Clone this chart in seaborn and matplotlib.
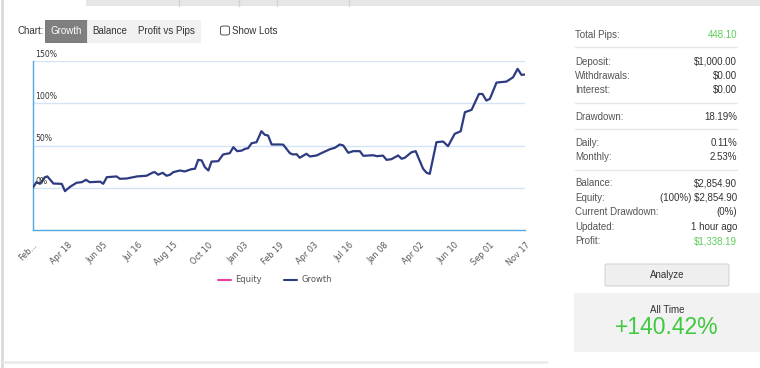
import matplotlib
matplotlib.use("Agg")
import matplotlib.pyplot as plt
import seaborn as sns
import pandas as pd
from matplotlib.patches import Rectangle, FancyBboxPatch
from matplotlib.lines import Line2D

# ---------------- data ----------------
# position along the date axis (10 units per labelled tick interval)
date_pos = [0, 1.0, 2.0, 3.4, 4.1, 5.8, 7.7, 8.2, 9.1, 10.5, 12.4, 13.9, 15.1, 16.1,
            19.1, 20.0, 21.0, 23.8, 24.7, 26.6, 29.6, 32.3, 34.2, 34.7, 35.6, 36.9,
            38.0, 39.0, 39.9, 41.8, 43.2, 45.1, 46.1, 47.0, 48.0, 48.9, 49.9, 50.8,
            52.7, 54.1, 56.0, 57.0, 58.1, 59.4, 60.3, 61.2, 62.2, 63.6, 65.0, 66.0,
            66.9, 67.9, 70.2, 71.2, 73.1, 74.0, 75.0, 75.9, 77.8, 78.8, 80.7, 82.6,
            84.5, 85.9, 87.3, 88.3, 89.7, 91.1, 93.0, 94.0, 96.8, 97.8, 99.6, 100.6,
            102.0, 103.9, 104.9, 105.8, 107.7, 108.9, 109.6, 111.0, 112.0, 112.9,
            114.8, 116.7, 118.1, 120.0, 121.7, 122.9, 124.8, 126.9, 127.9, 129.0,
            130.0, 131.9, 134.7, 136.6, 137.9, 139.0, 140.0]
growth = [0.5, 6.6, 4.7, 12.5, 13.4, 5.0, 4.7, 4.5, -4.0, 1.0, 5.9, 6.6, 9.4, 6.6,
          7.2, 4.7, 12.5, 13.4, 10.6, 10.9, 13.4, 14.2, 18.2, 18.4, 15.4, 17.7,
          14.2, 15.4, 18.4, 20.4, 19.3, 22.0, 22.5, 33.0, 32.3, 24.4, 20.4, 31.0,
          31.4, 39.4, 40.9, 48.0, 43.3, 44.0, 46.0, 46.8, 52.7, 53.9, 66.9, 62.6,
          61.8, 51.2, 51.2, 51.0, 40.9, 39.4, 39.7, 35.5, 40.2, 37.0, 38.2, 42.0,
          45.6, 47.3, 51.2, 50.0, 41.4, 43.3, 43.3, 37.8, 38.5, 37.4, 38.0, 33.0,
          33.8, 38.2, 34.3, 35.5, 42.0, 43.3, 36.2, 22.5, 17.7, 16.5,
          53.9, 54.7, 49.2, 63.8, 66.9, 89.4, 92.2, 111.0, 111.0, 103.2,
          105.2, 124.5, 125.6, 130.7, 140.7, 133.6, 134.0]

tick_pos = list(range(0, 141, 10))
tick_labels = ["Feb...", "Apr 18", "Jun 05", "Jul 16", "Aug 15", "Oct 10", "Jan 03",
               "Feb 19", "Apr 03", "Jul 16", "Jan 08", "Apr 02", "Jun 10", "Sep 01", "Nov 17"]
y_ticks = [-50, 0, 50, 100, 150]
y_tick_labels = ["", "0%", "50%", "100%", "150%"]

legend_labels = ["Equity", "Growth"]
chart_buttons = ["Growth", "Balance", "Profit vs Pips"]

stat_labels = ["Total Pips:", "Deposit:", "Withdrawals:", "Interest:", "Drawdown:",
               "Daily:", "Monthly:", "Balance:", "Equity:", "Current Drawdown:",
               "Updated:", "Profit:"]
stat_values = ["448.10", "$1,000.00", "$0.00", "$0.00", "18.19%", "0.11%", "2.53%",
               "$2,854.90", "(100%) $2,854.90", "(0%)", "1 hour ago", "$1,338.19"]
stat_green = [True, False, False, False, False, False, False, False, False, False,
              False, True]
all_time_label = "All Time"
all_time_value = "+140.42%"

# ---------------- style ----------------
sns.set_style("white")
plt.rcParams["font.family"] = ["Liberation Sans", "DejaVu Sans"]

W, H = 760, 368
fig = plt.figure(figsize=(W / 100, H / 100), dpi=100)
fig.patch.set_facecolor("white")


def P(x, y):
    return (x / W, 1 - y / H)


def rect(x0, y0, x1, y1, **kw):
    fig.patches.append(Rectangle((x0 / W, 1 - y1 / H), (x1 - x0) / W, (y1 - y0) / H,
                                 transform=fig.transFigure, **kw))


def hline(x0, x1, y, **kw):
    fig.lines.append(Line2D([x0 / W, x1 / W], [1 - y / H, 1 - y / H],
                            transform=fig.transFigure, **kw))


def vline(x, y0, y1, **kw):
    fig.lines.append(Line2D([x / W, x / W], [1 - y0 / H, 1 - y1 / H],
                            transform=fig.transFigure, **kw))


NAVY = "#2d3b80"
PINK = "#e8409a"
BLUE = "#53a8e0"
GRID = "#d3e4f7"
TXT = "#333333"
LAB = "#555555"
GREEN = "#5ccc5c"

# ---------------- page chrome ----------------
rect(86, 0, 760, 6, facecolor="#e6e6e6", edgecolor="none")
for sx in [179, 239, 277, 349]:
    vline(sx, 0, 6, color="#d2d2d2", lw=1)
vline(1.5, 0, 368, color="#dadada", lw=2)
hline(3, 547, 362, color="#ececec", lw=2)

# chart header
fig.text(*P(18, 30.5), "Chart:", fontsize=7, color=TXT, va="center", ha="left")
btn_x = [45, 87, 133, 200]
for i, name in enumerate(chart_buttons):
    active = i == 0
    rect(btn_x[i], 20, btn_x[i + 1], 42,
         facecolor="#7f7f7f" if active else "#f1f1f1",
         edgecolor="#6f6f6f" if active else "#f1f1f1", lw=0.6)
    fig.text(*P((btn_x[i] + btn_x[i + 1]) / 2, 31), name, fontsize=7,
             color="white" if active else TXT, ha="center", va="center")
fig.patches.append(FancyBboxPatch((220.5 / W, 1 - 35 / H), 9 / W, 9 / H,
                                  boxstyle="round,pad=0,rounding_size=0.004",
                                  transform=fig.transFigure, facecolor="white",
                                  edgecolor="#555555", lw=0.7))
fig.text(*P(232, 30.5), "Show Lots", fontsize=7, color=TXT, va="center", ha="left")

# ---------------- chart ----------------
ax = fig.add_axes([33 / W, 138 / H, 492 / W, 169 / H])
df = pd.DataFrame({"pos": date_pos, "growth": growth})
sns.lineplot(data=df, x="pos", y="growth", ax=ax, color=NAVY, lw=1.6, zorder=3)
ax.set_xlim(tick_pos[0], tick_pos[-1])
ax.set_ylim(y_ticks[0], y_ticks[-1])
ax.set_xlabel("")
ax.set_ylabel("")
ax.set_facecolor("white")
for s in ["top", "right"]:
    ax.spines[s].set_visible(False)
for s in ["left", "bottom"]:
    ax.spines[s].set_color(BLUE)
    ax.spines[s].set_linewidth(1.0)
ax.set_yticks(y_ticks)
ax.tick_params(axis="y", length=7, color=BLUE, width=1, labelleft=False)
for v in y_ticks[1:]:
    ax.axhline(v, color=GRID, lw=1, zorder=1)
for v, lab in zip(y_ticks, y_tick_labels):
    if lab:
        ax.annotate(lab, xy=(0, v), xycoords=("axes fraction", "data"),
                    xytext=(1.5, 1.5), textcoords="offset points",
                    fontsize=5.6, color=TXT, ha="left", va="bottom",
                    family="DejaVu Sans")
ax.set_xticks(tick_pos)
ax.set_xticklabels(tick_labels, rotation=45, ha="right", rotation_mode="anchor",
                   fontsize=5.9, color=LAB, family="DejaVu Sans")
ax.tick_params(axis="x", length=5, color=BLUE, width=1, pad=2.5)

handles = [Line2D([], [], color=PINK, lw=1.5), Line2D([], [], color=NAVY, lw=1.5)]
fig.legend(handles, legend_labels, loc="center", bbox_to_anchor=P(275, 280),
           ncol=2, frameon=False, prop={"family": "DejaVu Sans", "size": 6},
           handlelength=1.6, handletextpad=0.5, columnspacing=2.6, labelcolor=LAB)

# ---------------- stats panel ----------------
row_y = [35, 61.7, 76, 90, 116.7, 142.7, 156.7, 183.3, 197.6, 212, 226.6, 241]
for lab, val, g, yy in zip(stat_labels, stat_values, stat_green, row_y):
    fig.text(*P(575, yy), lab, fontsize=7, color=LAB, ha="left", va="center")
    fig.text(*P(737, yy), val, fontsize=7, color=GREEN if g else TXT,
             ha="right", va="center")
for sy in [47.3, 103.3, 129.3, 170]:
    hline(575, 737, sy, color="#e6e6e6", lw=1)

fig.patches.append(FancyBboxPatch((605 / W, 1 - 286 / H), 124 / W, 22 / H,
                                  boxstyle="round,pad=0,rounding_size=0.003",
                                  transform=fig.transFigure, facecolor="#efefef",
                                  edgecolor="#d0d0d0", lw=0.7))
fig.text(*P(667, 275), "Analyze", fontsize=7, color=TXT, ha="center", va="center")

rect(574, 293, 760, 352, facecolor="#f2f2f2", edgecolor="none")
fig.text(*P(667, 310), all_time_label, fontsize=7, color=TXT, ha="center", va="center")
fig.text(*P(667, 327), all_time_value, fontsize=16.5, color="#3fc93f",
         ha="center", va="center")

fig.savefig("out.png", dpi=100, facecolor="white")
